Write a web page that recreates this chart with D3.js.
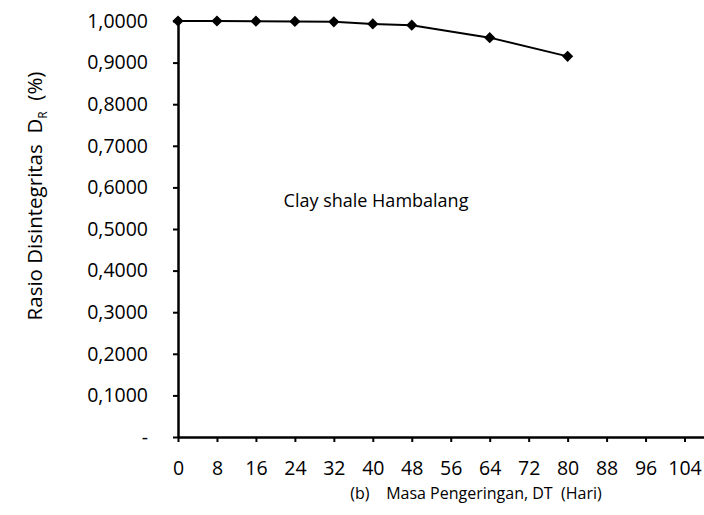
<!DOCTYPE html>
<html>
<head>
<meta charset="utf-8">
<script src="https://cdn.jsdelivr.net/npm/d3@7"></script>
<style>
body { margin: 0; background: #fff; }
text { font-family: "Open Sans", sans-serif; fill: #000; }
</style>
</head>
<body>
<svg width="704" height="515"></svg>
<script>
// drying time (days) and disintegration ratio
var days = [0, 8, 16, 24, 32, 40, 48, 64, 80];
var ratio = [1.0, 1.0, 0.9995, 0.999, 0.998, 0.993, 0.990, 0.960, 0.915];
var xTicks = [0, 8, 16, 24, 32, 40, 48, 56, 64, 72, 80, 88, 96, 104];
var yTicks = [0, 0.1, 0.2, 0.3, 0.4, 0.5, 0.6, 0.7, 0.8, 0.9, 1.0];

var svg = d3.select("svg");

var x = d3.scaleLinear().domain([0, 108]).range([178, 704]);
var y = d3.scaleLinear().domain([0, 1]).range([437, 21]);

var fmt = function(d) { return d === 0 ? "-" : d3.format(".4f")(d).replace(".", ","); };

var gy = svg.append("g")
    .attr("transform", "translate(" + x(0) + ",0)")
    .call(d3.axisLeft(y).tickValues(yTicks).tickFormat(fmt).tickSize(5).tickPadding(25).tickSizeOuter(0));

var gx = svg.append("g")
    .attr("transform", "translate(0," + y(0) + ")")
    .call(d3.axisBottom(x).tickValues(xTicks).tickSize(5).tickPadding(19).tickSizeOuter(0));

[gx, gy].forEach(function(g) {
  g.select(".domain").attr("stroke", "#000").attr("stroke-width", 2.5);
  g.selectAll(".tick line").attr("stroke", "#000").attr("stroke-width", 2);
  g.selectAll(".tick text").style("font-size", "19.5px").style("font-family", "Open Sans");
});

var line = d3.line()
    .x(function(d, i) { return x(days[i]); })
    .y(function(d) { return y(d); });

svg.append("path")
    .datum(ratio)
    .attr("fill", "none")
    .attr("stroke", "#000")
    .attr("stroke-width", 2)
    .attr("d", line);

svg.selectAll(".pt")
    .data(ratio)
  .enter().append("path")
    .attr("class", "pt")
    .attr("d", d3.symbol().type(d3.symbolDiamond2).size(80))
    .attr("transform", function(d, i) { return "translate(" + x(days[i]) + "," + y(d) + ")"; })
    .attr("fill", "#000");

svg.append("text")
    .attr("x", 376).attr("y", 207)
    .attr("text-anchor", "middle")
    .style("font-size", "18px")
    .text("Clay shale Hambalang");

svg.append("text")
    .attr("x", 476).attr("y", 499)
    .attr("text-anchor", "middle")
    .style("font-size", "16px")
    .attr("xml:space", "preserve")
    .text("(b)    Masa Pengeringan, DT  (Hari)");

var yl = svg.append("text")
    .attr("transform", "translate(42,196) rotate(-90)")
    .attr("text-anchor", "middle")
    .attr("xml:space", "preserve")
    .style("font-size", "20.5px");
yl.append("tspan").text("Rasio Disintegritas  D");
yl.append("tspan").attr("dy", 5).style("font-size", "12px").text("R");
yl.append("tspan").attr("dy", -5).text("  (%)");
</script>
</body>
</html>
